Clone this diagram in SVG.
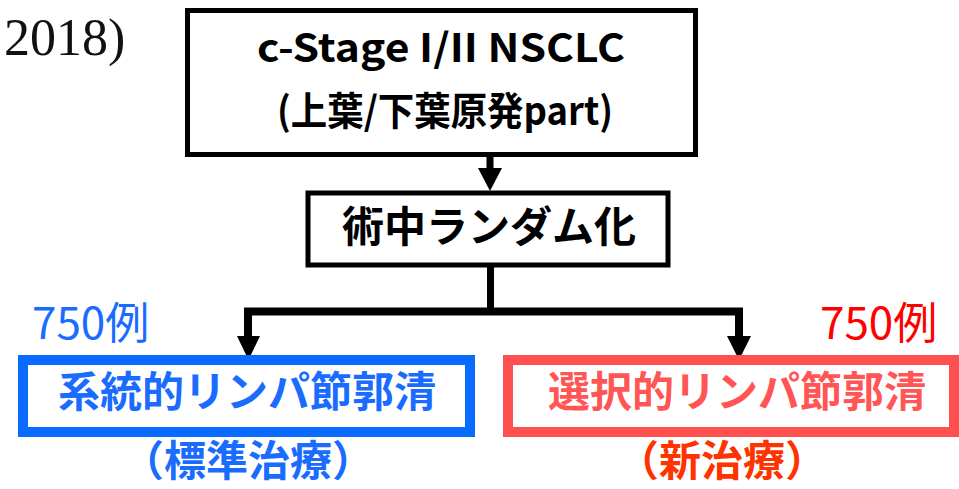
<svg xmlns="http://www.w3.org/2000/svg" width="959" height="489" viewBox="0 0 959 489">
<defs>
<style>
.jp{font-family:"Noto Sans CJK JP","Noto Sans",sans-serif;font-weight:bold;}
.reg{font-family:"Noto Sans CJK JP","Noto Sans",sans-serif;font-weight:normal;}
.box{fill:#fff;}
.ln{stroke:#000;fill:none;}
</style>
</defs>
<rect width="959" height="489" fill="#fff"/>
<text x="4" y="55" font-family="Liberation Serif, serif" font-size="52" fill="#111">2018)</text>

<g id="connectors">
<line class="ln" x1="490" y1="157" x2="490" y2="168" stroke-width="7"/>
<path d="M478,168 L502,168 L490,191 Z" fill="#000"/>
<line class="ln" x1="490.5" y1="267" x2="490.5" y2="312" stroke-width="7"/>
<polyline class="ln" points="248,338 248,311.5 739,311.5 739,338" stroke-width="8"/>
<path d="M237,336 L260,336 L248.5,360 Z" fill="#000"/>
<path d="M727,336 L751,336 L739,360 Z" fill="#000"/>
</g>

<g id="node-top">
<rect class="box" x="187.5" y="10.5" width="508" height="144" stroke="#000" stroke-width="5"/>
<text class="jp" x="257" y="62" font-size="39" textLength="368" lengthAdjust="spacingAndGlyphs" fill="#000">c-Stage I/II NSCLC</text>
<text class="jp" x="277" y="125" font-size="39" textLength="336" lengthAdjust="spacingAndGlyphs" fill="#000">(上葉/下葉原発part)</text>
</g>

<g id="node-random">
<rect class="box" x="308" y="193" width="360" height="72" stroke="#000" stroke-width="5"/>
<text class="jp" x="489" y="242" font-size="42" text-anchor="middle" fill="#000">術中ランダム化</text>
</g>

<g id="node-standard">
<text class="reg" x="32" y="339" font-size="44" fill="#1a6cff">750例</text>
<rect class="box" x="23" y="360" width="447" height="72" stroke="#0a6cff" stroke-width="10"/>
<text class="jp" x="247" y="407" font-size="42" text-anchor="middle" fill="#1a6cff">系統的リンパ節郭清</text>
<text class="jp" x="248" y="476" font-size="42" text-anchor="middle" fill="#1a6cff">（標準治療）</text>
</g>

<g id="node-selective">
<text class="reg" x="820" y="339" font-size="44" fill="#ff0000">750例</text>
<rect class="box" x="508" y="360" width="446" height="72" stroke="#ff5050" stroke-width="10"/>
<text class="jp" x="737" y="407" font-size="42" text-anchor="middle" fill="#ff5555">選択的リンパ節郭清</text>
<text class="jp" x="722" y="476" font-size="42" text-anchor="middle" fill="#ff3300">（新治療）</text>
</g>
</svg>
